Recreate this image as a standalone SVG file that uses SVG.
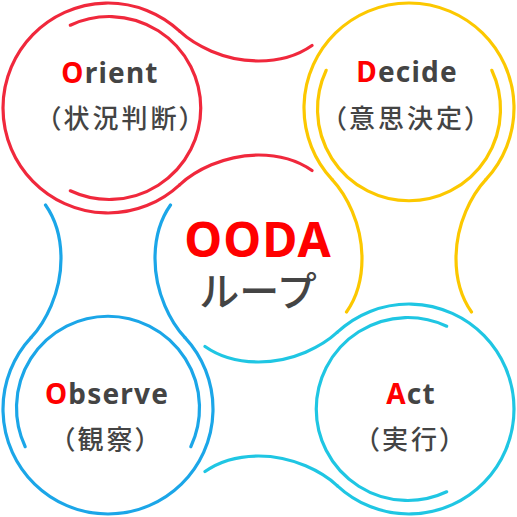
<svg xmlns="http://www.w3.org/2000/svg" xmlns:xlink="http://www.w3.org/1999/xlink" width="517" height="517" viewBox="0 0 517 517">
<style>
.ln{fill:none;stroke-width:3.2;stroke-linecap:round}
.r{stroke:#f0283c}.y{stroke:#fcc800}.c{stroke:#1fc6e3}.b{stroke:#1ba6e8}
.t{font-family:"Noto Sans","Open Sans","Liberation Sans",sans-serif;font-weight:700;font-size:28px;fill:#444;text-anchor:middle;letter-spacing:1.2px}
.j{font-family:"Noto Sans CJK JP","Noto Sans",sans-serif;font-weight:500;font-size:26px;fill:#444;text-anchor:middle;font-feature-settings:"palt";letter-spacing:3px}
.k{fill:#ff0000}
</style>
<defs>
<path id="outer" d="M179.6,31.2 A105,105 0 1 0 179.6,184.8"/>
<path id="inner" d="M70.3,25.2 A91.5,91.5 0 1 1 70.3,190.8"/>
<path id="conn" d="M312,45.5 C298.5,55 279.5,61 258.5,61 C223.5,61 194.2,44.8 179.6,31.2 M179.6,184.8 C194.2,171.2 223.5,155 258.5,155 C279.5,155 298.5,161 312,170.5"/>
</defs>
<g id="connectors">
<use xlink:href="#conn" class="ln r"/>
<use xlink:href="#conn" class="ln y" transform="rotate(90 258.5 258.5)"/>
<use xlink:href="#conn" class="ln c" transform="rotate(180 258.5 258.5)"/>
<use xlink:href="#conn" class="ln b" transform="rotate(270 258.5 258.5)"/>
</g>
<g id="orient">
<use xlink:href="#outer" class="ln r"/>
<use xlink:href="#inner" class="ln r"/>
<text class="t" x="110" y="83"><tspan class="k">O</tspan>rient</text>
<text class="j" x="121.5" y="127.5">（状況判断）</text>
</g>
<g id="decide">
<use xlink:href="#outer" class="ln y" transform="rotate(90 258.5 258.5)"/>
<use xlink:href="#inner" class="ln y" transform="rotate(90 258.5 258.5)"/>
<text class="t" x="407" y="82"><tspan class="k">D</tspan>ecide</text>
<text class="j" x="407" y="127.5">（意思決定）</text>
</g>
<g id="act">
<use xlink:href="#outer" class="ln c" transform="rotate(180 258.5 258.5)"/>
<use xlink:href="#inner" class="ln c" transform="rotate(180 258.5 258.5)"/>
<text class="t" x="411" y="404"><tspan class="k">A</tspan>ct</text>
<text class="j" x="411" y="448.5">（実行）</text>
</g>
<g id="observe">
<use xlink:href="#outer" class="ln b" transform="rotate(270 258.5 258.5)"/>
<use xlink:href="#inner" class="ln b" transform="rotate(270 258.5 258.5)"/>
<text class="t" x="107" y="404"><tspan class="k">O</tspan>bserve</text>
<text class="j" x="106.5" y="448.5">（観察）</text>
</g>
<g id="center">
<text x="258" y="257" style="font-family:'Noto Sans','Open Sans',sans-serif;font-weight:700;font-size:48px;fill:#ff0000;text-anchor:middle;letter-spacing:1px">OODA</text>
<text x="258" y="306" style="font-family:'Noto Sans CJK JP',sans-serif;font-weight:500;font-size:40px;fill:#444;text-anchor:middle">ループ</text>
</g>
</svg>
